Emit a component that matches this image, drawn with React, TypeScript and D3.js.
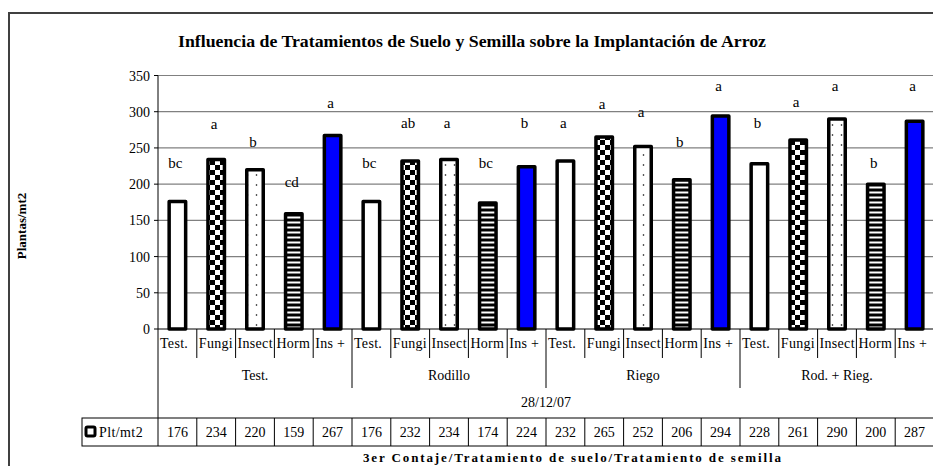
import React from "react";
import * as d3 from "d3";

const groups = ["Test.", "Rodillo", "Riego", "Rod. + Rieg."];
const treatments = ["Test.", "Fungi", "Insect", "Horm", "Ins +"];
const values = [176, 234, 220, 159, 267, 176, 232, 234, 174, 224, 232, 265, 252, 206, 294, 228, 261, 290, 200, 287];
const letters = ["bc", "a", "b", "cd", "a", "bc", "ab", "a", "bc", "b", "a", "a", "a", "b", "a", "b", "a", "a", "b", "a"];
const letterLevels = [229, 283, 258, 203, 312, 229, 284, 284, 229, 284, 284, 311, 299, 258, 336, 284, 313, 336, 229, 336];
const yTicks = [0, 50, 100, 150, 200, 250, 300, 350];
const dateLabel = "28/12/07";
const seriesName = "Plt/mt2";
const title = "Influencia de Tratamientos de Suelo y Semilla sobre la Implantación de Arroz";
const yTitle = "Plantas/mt2";
const xTitle = "3er Contaje/Tratamiento de suelo/Tratamiento de semilla";

const W = 933;
const H = 466;
const plotLeft = 158;
const plotRight = 934;
const plotTop = 75.5;
const plotBottom = 329;
const FONT = "'Liberation Serif', 'Times New Roman', serif";

const fills = ["#ffffff", "url(#checker)", "url(#dots)", "url(#stripes)", "#0000ff"];

export default function App() {
  const cats = values.map((_, i) => i);
  const x = d3.scaleBand<number>().domain(cats).range([plotLeft, plotRight]).padding(0);
  const y = d3.scaleLinear().domain([0, 350]).range([plotBottom, plotTop]);
  const bw = x.bandwidth();
  const barW = 16.5;
  const groupW = bw * treatments.length;
  const ts: React.CSSProperties = { fontFamily: FONT };

  return (
    <svg width={W} height={H} style={{ position: "absolute", left: 0, top: 0, background: "#fff", fontFamily: FONT }}>
      <defs>
        <pattern id="checker" patternUnits="userSpaceOnUse" width={10} height={10}>
          <rect width={10} height={10} fill="#fff" />
          <rect x={0} y={0} width={5} height={5} fill="#000" />
          <rect x={5} y={5} width={5} height={5} fill="#000" />
        </pattern>
        <pattern id="stripes" patternUnits="userSpaceOnUse" width={6} height={5}>
          <rect width={6} height={5} fill="#000" />
          <rect x={0} y={1.5} width={6} height={2} fill="#fff" />
        </pattern>
        <pattern id="dots" patternUnits="userSpaceOnUse" width={9} height={10}>
          <rect width={9} height={10} fill="#fff" />
          <circle cx={4.5} cy={5} r={0.8} fill="#000" />
        </pattern>
        {cats.map((i) => (
          <clipPath id={`cc${i}`} key={i}>
            <rect x={x(i)!} y={plotBottom} width={bw} height={30} />
          </clipPath>
        ))}
      </defs>

      {/* outer frame */}
      <rect x={9} y={13} width={960} height={480} fill="#fff" stroke="#404040" strokeWidth={2} />

      {/* title */}
      <text x={472} y={47} textAnchor="middle" fontWeight="bold" fontSize={16} textLength={588} lengthAdjust="spacingAndGlyphs" style={ts}>
        {title}
      </text>

      {/* y title */}
      <text transform={`translate(26,226) rotate(-90)`} textAnchor="middle" fontWeight="bold" fontSize={13} style={ts}>
        {yTitle}
      </text>

      {/* gridlines */}
      {yTicks.filter((t) => t > 0).map((t) => (
        <line key={t} x1={plotLeft} x2={plotRight} y1={y(t)} y2={y(t)} stroke="#808080" strokeWidth={1.2} />
      ))}

      {/* y ticks */}
      {yTicks.map((t) => (
        <g key={t}>
          <line x1={plotLeft - 4} x2={plotLeft} y1={y(t)} y2={y(t)} stroke="#000" />
          <text x={plotLeft - 8} y={y(t) + 5} textAnchor="end" fontSize={14} style={ts}>
            {t}
          </text>
        </g>
      ))}

      {/* bars */}
      {values.map((v, i) => (
        <rect
          key={i}
          x={x(i)! + bw / 2 - barW / 2}
          y={y(v)}
          width={barW}
          height={plotBottom - y(v)}
          fill={fills[i % 5]}
          stroke="#000"
          strokeWidth={3.5}
          strokeLinejoin="round"
        />
      ))}

      {/* significance letters */}
      {letters.map((l, i) => (
        <text key={i} x={x(i)! + bw / 2 - 2} y={y(letterLevels[i]) + 5} textAnchor="middle" fontSize={15} style={ts}>
          {l}
        </text>
      ))}

      {/* axis lines */}
      <line x1={plotLeft} x2={plotLeft} y1={plotTop} y2={418} stroke="#000" />
      <line x1={plotLeft} x2={plotRight} y1={plotBottom} y2={plotBottom} stroke="#000" />

      {/* category separators and labels */}
      {cats.map((i) => (
        <g key={i}>
          {i > 0 && (
            <line
              x1={x(i)!}
              x2={x(i)!}
              y1={plotBottom}
              y2={i % 5 === 0 ? 388 : 358}
              stroke="#000"
              strokeWidth={1}
            />
          )}
          <text x={x(i)! + 2} y={348} fontSize={14} clipPath={`url(#cc${i})`} letterSpacing={0.3} style={ts}>
            {treatments[i % 5]}
          </text>
        </g>
      ))}

      {/* group labels */}
      {groups.map((g, gi) => (
        <text key={g} x={plotLeft + groupW * gi + groupW / 2} y={380} textAnchor="middle" fontSize={14} style={ts}>
          {g}
        </text>
      ))}

      <text x={(plotLeft + plotRight) / 2} y={407} textAnchor="middle" fontSize={14} style={ts}>
        {dateLabel}
      </text>

      {/* data table */}
      <rect x={82} y={418} width={plotRight - 82 + 10} height={28} fill="none" stroke="#000" />
      <line x1={plotLeft} x2={plotLeft} y1={418} y2={446} stroke="#000" />
      <rect x={86} y={427} width={9} height={9} fill="#fff" stroke="#000" strokeWidth={3} rx={1.5} />
      <text x={99} y={437} fontSize={14} letterSpacing={0.4} style={ts}>
        {seriesName}
      </text>
      {cats.map((i) => (
        <g key={i}>
          {i > 0 && <line x1={x(i)!} x2={x(i)!} y1={418} y2={446} stroke="#000" />}
          <text x={x(i)! + bw / 2} y={437} textAnchor="middle" fontSize={14} style={ts}>
            {values[i]}
          </text>
        </g>
      ))}

      {/* x title */}
      <text x={572} y={462} textAnchor="middle" fontWeight="bold" fontSize={13} textLength={418} lengthAdjust="spacing" style={ts}>
        {xTitle}
      </text>
    </svg>
  );
}
